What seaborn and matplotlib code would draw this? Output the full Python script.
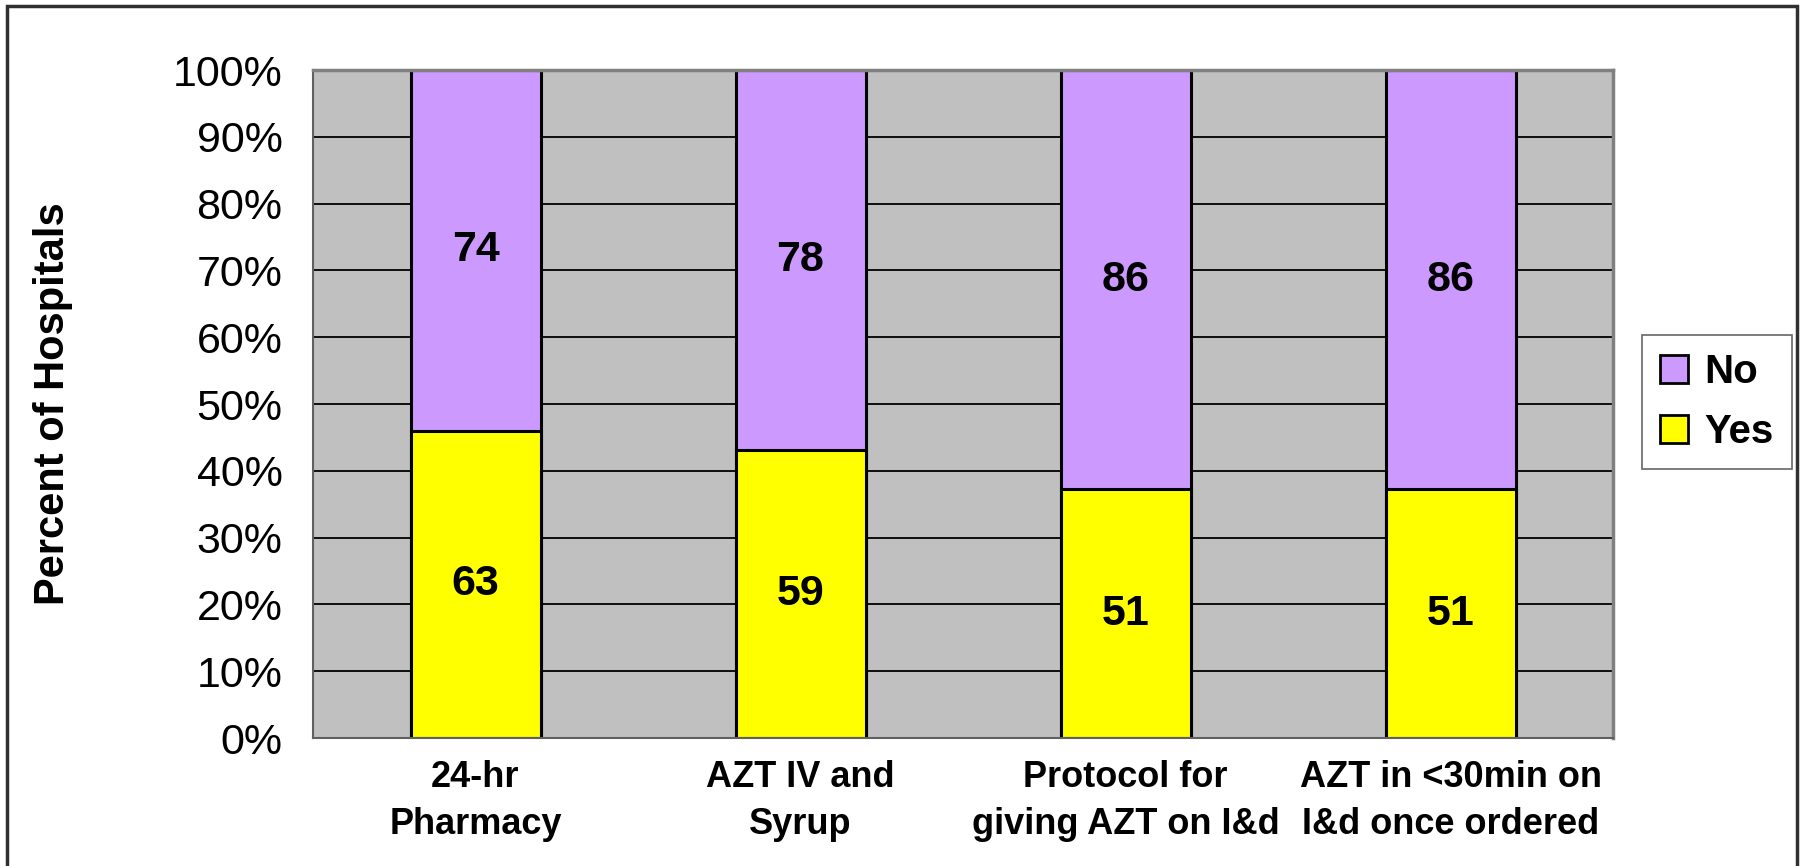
import pandas as pd
import numpy as np
import matplotlib
matplotlib.use("Agg")
import matplotlib.pyplot as plt
import seaborn as sns
from matplotlib.patches import Patch, Rectangle

# data (counts of hospitals)
categories = ["24-hr\nPharmacy", "AZT IV and\nSyrup", "Protocol for\ngiving AZT on I&d", "AZT in <30min on\nI&d once ordered"]
yes_counts = [63, 59, 51, 51]
no_counts = [74, 78, 86, 86]

df = pd.DataFrame({"category": categories, "Yes": yes_counts, "No": no_counts})
df["total"] = df["Yes"] + df["No"]
df["yes_pct"] = df["Yes"] / df["total"] * 100
df["all_pct"] = 100.0

sns.set_style("white")
plt.rcParams['font.family'] = ['Liberation Sans', 'DejaVu Sans']
plt.rcParams.update({"text.color": "black", "axes.labelcolor": "black",
                     "xtick.labelcolor": "black", "ytick.labelcolor": "black"})

fig = plt.figure(figsize=(18.02, 8.66), dpi=100)
ax = fig.add_axes([313/1802, 1 - 738/866, (1613-313)/1802, (738-70)/866])

# stacked: full bar (No on top) then Yes
sns.barplot(data=df, x="category", y="all_pct", color="#CC99FF", width=0.4,
            edgecolor="black", linewidth=2.2, ax=ax, saturation=1)
sns.barplot(data=df, x="category", y="yes_pct", color="#FFFF00", width=0.4,
            edgecolor="black", linewidth=2.2, ax=ax, saturation=1)

# value labels
for i, row in df.iterrows():
    ax.text(i, row["yes_pct"] / 2, str(row["Yes"]), ha="center", va="center",
            fontsize=31, fontweight="bold", color="black")
    ax.text(i, row["yes_pct"] + (100 - row["yes_pct"]) / 2, str(row["No"]),
            ha="center", va="center", fontsize=31, fontweight="bold", color="black")

ax.set_facecolor("#C0C0C0")
ax.set_xlim(-0.5, len(categories) - 0.5)
ax.set_ylim(0, 100)
ax.set_yticks(np.arange(0, 101, 10))
ax.set_yticklabels([f"{v}%" for v in range(0, 101, 10)], fontsize=31)
ax.yaxis.grid(True, color="black", linewidth=1.3)
ax.set_axisbelow(True)

ax.set_xticks(range(len(categories)))
ax.set_xticklabels(categories, fontsize=26, fontweight="bold", linespacing=1.45)
ax.tick_params(axis="x", which="major", length=0, pad=16)
ax.set_xticks(np.arange(-0.5, len(categories), 1.0), minor=True)
ax.tick_params(axis="x", which="minor", length=14, width=1.2, color="#404040")
ax.tick_params(axis="y", length=14, width=1.2, color="#404040", pad=8)

ax.set_xlabel("")
ax.set_ylabel("Percent of Hospitals", fontsize=30, fontweight="bold")
ax.yaxis.set_label_coords((73 - 313) / 1300, 0.5)

for side in ["top", "right"]:
    ax.spines[side].set_color("#808080")
    ax.spines[side].set_linewidth(2.5)
for side in ["left", "bottom"]:
    ax.spines[side].set_color("#606060")
    ax.spines[side].set_linewidth(1.5)

handles = [Patch(facecolor="#CC99FF", edgecolor="black", linewidth=2, label="No"),
           Patch(facecolor="#FFFF00", edgecolor="black", linewidth=2, label="Yes")]
leg = fig.legend(handles=handles, loc="center", bbox_to_anchor=(1717/1802, 1 - 402/866),
                 prop={"weight": "bold", "size": 29}, frameon=True, fancybox=False,
                 edgecolor="#404040", handlelength=0.7, handleheight=0.7, handletextpad=0.4,
                 labelspacing=0.55, borderpad=0.45)
leg.get_frame().set_linewidth(1.2)

# outer chart border (bottom edge falls outside the image)
fig.patches.append(Rectangle((7/1802, -0.05), (1797-7)/1802, 1.05 - 6/866, transform=fig.transFigure,
                             fill=False, edgecolor="#303030", linewidth=2.5))

fig.savefig("out.png", dpi=100)
